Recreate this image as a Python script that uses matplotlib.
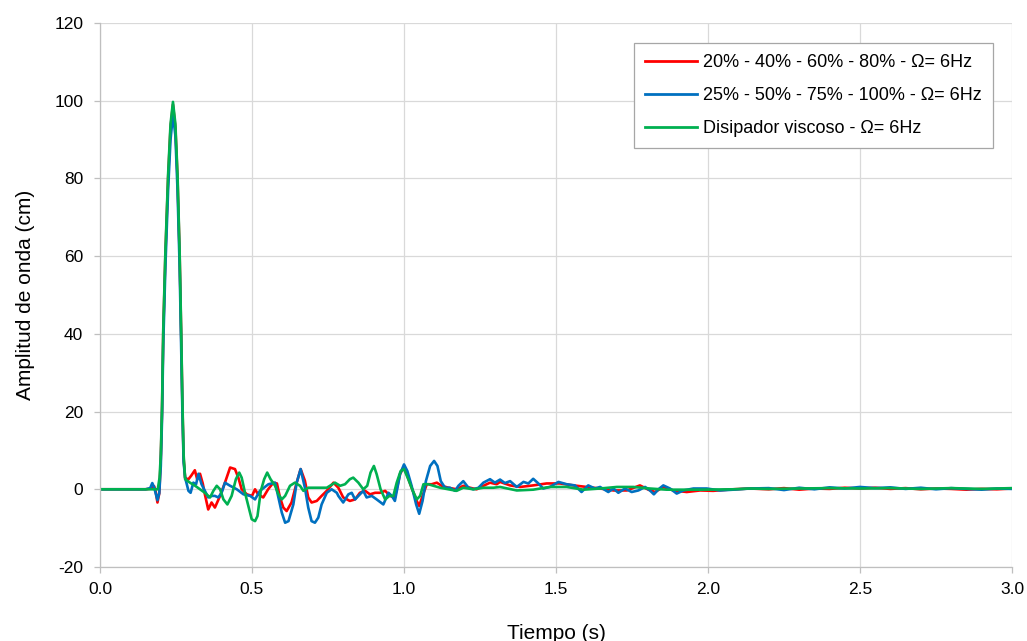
import matplotlib
matplotlib.use("Agg")
import matplotlib.pyplot as plt

# ---------------- data ----------------
red_t = [0.0, 0.15, 0.17, 0.178, 0.183, 0.189, 0.195, 0.200, 0.204, 0.208, 0.215, 0.224, 0.232, 0.240,
         0.248, 0.255, 0.262, 0.267, 0.271, 0.275, 0.280, 0.290, 0.300, 0.312, 0.320, 0.329, 0.338,
         0.345, 0.356, 0.367, 0.378, 0.395, 0.411, 0.428, 0.444, 0.455, 0.466, 0.483, 0.500, 0.510,
         0.520, 0.537, 0.553, 0.570, 0.582, 0.592, 0.603, 0.614, 0.630, 0.647, 0.660, 0.674, 0.685,
         0.696, 0.713, 0.729, 0.746, 0.768, 0.784, 0.800, 0.822, 0.839, 0.855, 0.872, 0.888, 0.905,
         0.921, 0.938, 0.954, 0.970, 0.987, 0.998, 1.009, 1.025, 1.042, 1.050, 1.061, 1.075, 1.091,
         1.108, 1.124, 1.146, 1.173, 1.195, 1.217, 1.239, 1.261, 1.283, 1.305, 1.316, 1.349, 1.382,
         1.425, 1.469, 1.513, 1.557, 1.601, 1.645, 1.689, 1.733, 1.776, 1.804, 1.826, 1.853, 1.886,
         1.930, 1.974, 2.017, 2.083, 2.138, 2.20, 2.25, 2.30, 2.35, 2.40, 2.45, 2.50, 2.55, 2.60,
         2.65, 2.70, 2.75, 2.80, 2.85, 2.90, 2.95, 3.00]
red_v = [0.0, 0.0, 0.2, 0.8, -0.5, -3.4, -1.0, 8.0, 20.0, 40.0, 60.0, 80.0, 93.0, 99.0,
         93.0, 80.0, 60.0, 40.0, 22.0, 8.0, 3.0, 2.5, 3.5, 4.9, 2.5, 4.0, 1.5,
         -1.3, -5.2, -3.4, -4.7, -1.7, 1.7, 5.6, 5.2, 3.0, 0.0, -1.3, -1.7, 0.0,
         -1.3, -2.1, 0.0, 1.7, 1.5, -2.1, -4.7, -5.6, -3.4, 1.7, 5.2, 2.2, -2.1,
         -3.4, -3.0, -1.7, -0.4, 1.7, 0.4, -2.1, -3.0, -2.6, -0.9, -0.4, -1.3, -0.9,
         -0.9, -0.4, -1.7, -2.1, 3.9, 5.6, 3.9, 0.4, -3.0, -4.3, -1.7, 1.3, 1.3,
         1.7, 0.9, 0.4, 0.0, 0.9, 0.4, 0.0, 0.9, 1.7, 1.3, 1.9, 1.0, 0.6,
         1.0, 1.5, 1.5, 1.0, 0.6, 0.2, -0.3, -0.3, 1.0, -0.1, -0.7, 0.6, -0.3,
         -0.7, -0.3, -0.4, 0.0, 0.2, 0.0, 0.3, -0.1, 0.2, 0.1, 0.4, 0.2, 0.4, 0.1,
         0.3, 0.0, 0.2, 0.1, -0.1, 0.1, 0.0, 0.2]

blue_t = [0.0, 0.15, 0.165, 0.172, 0.178, 0.183, 0.189, 0.195, 0.200, 0.204, 0.208, 0.215, 0.224,
          0.232, 0.240, 0.248, 0.255, 0.262, 0.267, 0.271, 0.275, 0.280, 0.291, 0.298, 0.307, 0.316,
          0.324, 0.334, 0.345, 0.356, 0.367, 0.378, 0.389, 0.400, 0.411, 0.428, 0.450, 0.472, 0.494,
          0.510, 0.526, 0.554, 0.576, 0.587, 0.598, 0.609, 0.620, 0.636, 0.647, 0.660, 0.674, 0.685,
          0.696, 0.707, 0.718, 0.729, 0.746, 0.762, 0.779, 0.784, 0.800, 0.817, 0.828, 0.839, 0.855,
          0.866, 0.877, 0.894, 0.910, 0.932, 0.949, 0.960, 0.970, 0.987, 1.000, 1.011, 1.025, 1.040,
          1.050, 1.061, 1.072, 1.086, 1.099, 1.110, 1.121, 1.135, 1.151, 1.168, 1.179, 1.195, 1.212,
          1.228, 1.245, 1.261, 1.283, 1.299, 1.316, 1.332, 1.349, 1.371, 1.393, 1.409, 1.425, 1.442,
          1.458, 1.480, 1.508, 1.535, 1.562, 1.584, 1.606, 1.628, 1.645, 1.672, 1.689, 1.705, 1.727,
          1.749, 1.771, 1.793, 1.809, 1.822, 1.837, 1.853, 1.875, 1.897, 1.919, 1.952, 1.996, 2.039,
          2.083, 2.138, 2.20, 2.25, 2.30, 2.35, 2.40, 2.45, 2.50, 2.55, 2.60, 2.65, 2.70, 2.75, 2.80,
          2.85, 2.90, 2.95, 3.00]
blue_v = [0.0, 0.0, 0.3, 1.6, 0.5, -1.0, -2.8, -1.0, 6.0, 18.0, 37.0, 57.0, 77.0,
          90.0, 96.5, 91.0, 77.0, 57.0, 37.0, 20.0, 7.0, 3.0, -0.4, -0.9, 1.7, 1.3,
          4.0, 1.3, -0.4, -2.1, -1.7, -1.7, -2.1, -0.9, 1.7, 0.9, 0.0, -1.3, -1.7,
          -2.6, -0.4, 1.3, 1.7, -2.1, -6.0, -8.6, -8.2, -3.9, 1.7, 5.2, 0.4, -4.7,
          -8.2, -8.6, -7.3, -3.9, -0.9, 0.0, -0.9, -1.7, -3.4, -1.3, -0.9, -2.6, -1.3,
          -0.4, -2.1, -1.7, -2.6, -3.9, -0.9, -1.7, -3.0, 3.9, 6.4, 4.7, 0.9, -3.9,
          -6.3, -3.0, 2.1, 6.0, 7.3, 6.0, 2.1, 0.4, 0.4, -0.4, 0.9, 2.1, 0.4,
          0.0, 0.4, 1.7, 2.6, 1.7, 2.5, 1.6, 2.1, 0.6, 1.9, 1.5, 2.7, 1.5,
          0.2, 0.6, 1.9, 1.3, 1.0, -0.7, 1.0, 0.2, 0.6, -0.7, 0.2, -0.9, 0.2,
          -0.7, -0.3, 0.6, -0.3, -1.3, 0.0, 1.0, 0.2, -1.1, -0.3, 0.2, 0.2, -0.3,
          -0.1, 0.2, 0.3, -0.2, 0.4, 0.0, 0.5, 0.2, 0.6, 0.3, 0.5, 0.1, 0.4, 0.0, 0.3,
          0.1, -0.1, 0.2, 0.1]

green_t = [0.0, 0.19, 0.196, 0.200, 0.204, 0.208, 0.215, 0.224, 0.232, 0.240, 0.248, 0.255, 0.262,
           0.267, 0.271, 0.275, 0.280, 0.296, 0.313, 0.329, 0.345, 0.362, 0.373, 0.384, 0.395, 0.406,
           0.419, 0.433, 0.447, 0.458, 0.466, 0.477, 0.488, 0.499, 0.510, 0.518, 0.529, 0.540, 0.550,
           0.561, 0.576, 0.587, 0.598, 0.609, 0.625, 0.641, 0.658, 0.669, 0.685, 0.713, 0.746, 0.773,
           0.790, 0.806, 0.822, 0.833, 0.850, 0.866, 0.879, 0.890, 0.901, 0.910, 0.923, 0.938, 0.952,
           0.965, 0.976, 0.989, 1.000, 1.014, 1.029, 1.042, 1.053, 1.064, 1.080, 1.097, 1.119, 1.146,
           1.173, 1.195, 1.228, 1.261, 1.294, 1.316, 1.371, 1.425, 1.480, 1.535, 1.590, 1.645, 1.700,
           1.754, 1.809, 1.864, 1.919, 1.974, 2.083, 2.138, 2.20, 2.30, 2.40, 2.50, 2.60, 2.70, 2.80,
           2.90, 3.00]
green_v = [0.0, 0.0, 3.0, 9.0, 21.0, 41.0, 61.0, 81.0, 94.0, 99.7, 94.0, 81.0, 61.0,
           41.0, 23.0, 9.0, 2.6, 1.7, 0.9, 0.0, -0.9, -2.1, -0.4, 0.9, 0.0, -2.6,
           -3.9, -1.7, 2.6, 4.3, 3.0, -0.9, -4.3, -7.7, -8.2, -6.9, -0.4, 2.6, 4.3,
           2.6, 0.9, -1.3, -2.6, -1.7, 0.9, 1.7, 0.9, -0.4, 0.4, 0.4, 0.4, 1.7,
           0.9, 1.3, 2.6, 3.0, 1.7, 0.0, 0.9, 4.3, 6.0, 3.9, 0.0, -2.6, -1.7,
           -1.7, 1.7, 4.7, 5.2, 2.6, -0.4, -2.6, -1.7, 1.3, 1.3, 0.9, 0.4, 0.0,
           -0.4, 0.4, 0.0, 0.4, 0.4, 0.6, -0.3, -0.1, 0.6, 0.6, -0.1, 0.2, 0.6,
           0.6, 0.2, -0.1, -0.1, -0.1, 0.0, 0.2, 0.1, 0.2, 0.3, 0.2, 0.3, 0.1, 0.3,
           0.1, 0.3]

labels = ["20% - 40% - 60% - 80% - Ω= 6Hz",
          "25% - 50% - 75% - 100% - Ω= 6Hz",
          "Disipador viscoso - Ω= 6Hz"]
colors = ["#FF0000", "#0070C0", "#00B050"]
x_ticks = [0.0, 0.5, 1.0, 1.5, 2.0, 2.5, 3.0]
y_ticks = [-20, 0, 20, 40, 60, 80, 100, 120]

# ---------------- figure ----------------
plt.rcParams['font.family'] = ['Liberation Sans', 'DejaVu Sans']
plt.rcParams['axes.unicode_minus'] = False
fig = plt.figure(figsize=(10.27, 6.41), dpi=100)
ax = fig.add_axes([100/1027, 1 - 567/641, (1012-100)/1027, (567-23)/641])

for t, v, c, lab in zip([red_t, blue_t, green_t], [red_v, blue_v, green_v], colors, labels):
    ax.plot(t, v, color=c, lw=1.9, label=lab, solid_joinstyle='round')

ax.set_xlim(0, 3)
ax.set_ylim(-20, 120)
ax.set_xticks(x_ticks)
ax.set_xticklabels([f"{x:.1f}" for x in x_ticks])
ax.set_yticks(y_ticks)
ax.set_yticklabels([str(y) for y in y_ticks])
ax.grid(True, color="#D9D9D9", lw=0.9)
ax.set_axisbelow(True)
for s in ["top", "right"]:
    ax.spines[s].set_visible(False)
for s in ["left", "bottom"]:
    ax.spines[s].set_color("#BFBFBF")
    ax.spines[s].set_linewidth(0.9)
ax.tick_params(axis='both', colors="#BFBFBF", length=4, width=0.9, labelcolor="black", labelsize=12.5)
ax.tick_params(axis='y', pad=8)
ax.tick_params(axis='x', pad=7)

ax.set_xlabel("Tiempo (s)", fontsize=15, labelpad=19)
ax.set_ylabel("Amplitud de onda (cm)", fontsize=15, labelpad=14)

leg = ax.legend(loc="upper right", bbox_to_anchor=(993/1027, 1 - 43/641),
                bbox_transform=fig.transFigure, borderaxespad=0, fontsize=13,
                frameon=True, fancybox=False, edgecolor="#A6A6A6", framealpha=1,
                handlelength=2.9, handletextpad=0.35, labelspacing=0.9, borderpad=0.6)
leg.get_frame().set_linewidth(0.9)
for line in leg.get_lines():
    line.set_linewidth(2.0)

fig.savefig("out.png", dpi=100)
